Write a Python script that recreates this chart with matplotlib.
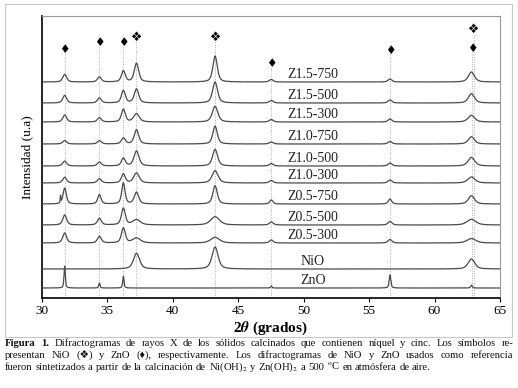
import numpy as np
import matplotlib
matplotlib.use("Agg")
import matplotlib.pyplot as plt
from matplotlib.patches import Rectangle

plt.rcParams['font.family'] = ['Liberation Serif', 'DejaVu Sans']
plt.rcParams['mathtext.fontset'] = 'stix'

# ---------------- data ----------------
samples = ['Z1.5-750', 'Z1.5-500', 'Z1.5-300', 'Z1.0-750', 'Z1.0-500', 'Z1.0-300',
           'Z0.5-750', 'Z0.5-500', 'Z0.5-300', 'NiO', 'ZnO']
offsets = [216, 195, 176, 154, 132, 115, 94, 73, 55, 29, 10]

peak_pos = [31.77, 34.42, 36.25, 37.25, 43.25, 47.54, 56.60, 62.82]
# peak heights (a.u.) per sample, at peak_pos
heights = {
    'Z1.5-750': [7.7, 5.0, 11.0, 18.7, 26.0, 2.5, 3.0, 10.0],
    'Z1.5-500': [7.7, 5.0, 12.5, 14.0, 21.0, 2.5, 3.0, 9.3],
    'Z1.5-300': [7.0, 4.3, 12.7, 8.3, 15.7, 2.5, 3.0, 6.7],
    'Z1.0-750': [3.5, 3.3, 6.0, 14.3, 18.0, 2.0, 2.5, 7.3],
    'Z1.0-500': [5.0, 4.0, 7.7, 15.0, 16.7, 2.5, 3.0, 8.7],
    'Z1.0-300': [5.7, 4.3, 9.0, 10.0, 12.3, 2.5, 3.0, 6.0],
    'Z0.5-750': [16.0, 9.3, 21.0, 11.7, 18.3, 4.0, 5.0, 8.3],
    'Z0.5-500': [10.0, 6.7, 16.7, 5.3, 8.3, 3.0, 3.5, 5.7],
    'Z0.5-300': [10.0, 6.7, 15.0, 5.0, 5.7, 3.0, 3.5, 4.5],
    'NiO':      [0.0, 0.0, 0.0, 15.7, 22.0, 0.0, 0.0, 10.0],
    'ZnO':      [22.0, 5.0, 12.0, 0.0, 0.0, 2.0, 13.0, 2.7],
}
# peak widths (FWHM, degrees)
widths = {
    'Z1.5-750': [0.35, 0.35, 0.35, 0.40, 0.40, 0.35, 0.35, 0.55],
    'Z1.5-500': [0.35, 0.35, 0.35, 0.40, 0.45, 0.35, 0.35, 0.55],
    'Z1.5-300': [0.35, 0.35, 0.35, 0.50, 0.50, 0.35, 0.35, 0.60],
    'Z1.0-750': [0.35, 0.35, 0.35, 0.40, 0.40, 0.35, 0.35, 0.55],
    'Z1.0-500': [0.35, 0.35, 0.35, 0.45, 0.45, 0.35, 0.35, 0.60],
    'Z1.0-300': [0.35, 0.35, 0.35, 0.50, 0.55, 0.35, 0.35, 0.65],
    'Z0.5-750': [0.30, 0.30, 0.30, 0.40, 0.40, 0.30, 0.30, 0.55],
    'Z0.5-500': [0.35, 0.35, 0.35, 0.70, 0.80, 0.35, 0.35, 0.80],
    'Z0.5-300': [0.35, 0.35, 0.35, 0.70, 0.80, 0.35, 0.35, 0.80],
    'NiO':      [0.50, 0.50, 0.50, 0.55, 0.55, 0.50, 0.50, 0.60],
    'ZnO':      [0.12, 0.12, 0.12, 0.12, 0.12, 0.12, 0.15, 0.15],
}
# extra sharp spike at 31.4 in Z0.5-750
spike_pos = 31.45
spike_h = 7.0

zno_marks_x = [31.77, 34.42, 36.25, 47.54, 56.60, 62.88]
zno_marks_y = [249, 256, 256, 235, 248, 250]
nio_marks_x = [37.25, 43.28, 63.02]
nio_marks_y = [261, 261, 269]

xticks = [30, 35, 40, 45, 50, 55, 60, 65]

# ---------------- figure ----------------
W, H = 518, 388
fig = plt.figure(figsize=(W / 100, H / 100), dpi=100)
fig.patch.set_facecolor('white')
fig.patches.append(Rectangle((5 / W, 1 - 337 / H), (512 - 5) / W, (337 - 4) / H,
                             transform=fig.transFigure, fill=False,
                             edgecolor='#c8c8c8', lw=0.8))

ax = fig.add_axes([41.5 / W, 1 - 298 / H, (500 - 41.5) / W, (298 - 16) / H])

x = np.linspace(30, 65, 4000)


def profile(pos, hts, wds):
    y = np.zeros_like(x)
    for c, h, w in zip(pos, hts, wds):
        if h <= 0:
            continue
        g = (x - c) / (w / 2)
        lor = 1 / (1 + g ** 2)
        gau = np.exp(-np.log(2) * g ** 2)
        y += h * (0.55 * lor + 0.45 * gau)
    return y


# dotted guide lines
for mx, my in zip(zno_marks_x + nio_marks_x, zno_marks_y + nio_marks_y):
    ax.plot([mx, mx], [0, my - 4], ls=(0, (1, 1.5)), color='#b0b0b0', lw=0.7, zorder=1)

for name, off in zip(samples, offsets):
    y = profile(peak_pos, heights[name], widths[name])
    if name == 'Z0.5-750':
        y = y + profile([spike_pos], [spike_h], [0.05])
    ax.plot(x, y + off, color='#4a4a4a', lw=0.9, zorder=3)
    ax.text(50.7, off + 7.5, name, ha='center', va='center', fontsize=10,
            color='#222222', zorder=4)

for mx, my in zip(zno_marks_x, zno_marks_y):
    ax.text(mx, my, '\u2666', ha='center', va='center', fontsize=8.5,
            family='DejaVu Sans', color='black', zorder=5)
for mx, my in zip(nio_marks_x, nio_marks_y):
    ax.text(mx, my, '\u2756', ha='center', va='center', fontsize=9,
            family='DejaVu Sans', color='black', zorder=5)

ax.set_xlim(30, 65)
ax.set_ylim(0, 282)
ax.set_xticks(xticks)
ax.set_xticklabels([str(t) for t in xticks], fontsize=9.5)
ax.set_yticks([])
ax.tick_params(axis='x', direction='out', length=3, width=0.8, pad=2)
for s in ['left', 'bottom']:
    ax.spines[s].set_color('black')
    ax.spines[s].set_linewidth(1.2)
for s in ['top', 'right']:
    ax.spines[s].set_color('#9a9a9a')
    ax.spines[s].set_linewidth(0.8)

ax.set_xlabel(r'2$\boldsymbol{\theta}$ (grados)', fontsize=11, fontweight='bold', labelpad=2)
ax.set_ylabel('Intensidad (u.a)', fontsize=9.5, labelpad=6)

# ---------------- caption (justified) ----------------
fig.canvas.draw()
renderer = fig.canvas.get_renderer()
cap_fs = 7.7
left_px, right_px = 5, 513
space_px = 0.25 * cap_fs * 100 / 72
lines = [
    ([('Figura', 'bold'), ('1.', 'bold'), ('Difractogramas', 'normal'), ('de', 'normal'),
      ('rayos', 'normal'), ('X', 'normal'), ('de', 'normal'), ('los', 'normal'),
      ('sólidos', 'normal'), ('calcinados', 'normal'), ('que', 'normal'),
      ('contienen', 'normal'), ('níquel', 'normal'), ('y', 'normal'), ('cinc.', 'normal'),
      ('Los', 'normal'), ('símbolos', 'normal'), ('re-', 'normal')], 346, True),
    ([(w, 'normal') for w in
      'presentan NiO (\u2756) y ZnO (\u2666), respectivamente. Los difractogramas de NiO y ZnO usados como referencia'.split(' ')],
     358, True),
    ([(w, 'normal') for w in
      ['fueron', 'sintetizados', 'a', 'partir', 'de', 'la', 'calcinación', 'de',
       r'Ni(OH)$_2$', 'y', r'Zn(OH)$_2$', 'a', '500', r'$^{\rm o}$C', 'en',
       'atmósfera', 'de', 'aire.']], 370, False),
]
for words, ypx, justify in lines:
    objs = []
    for w, wt in words:
        t = fig.text(0, 1 - ypx / H, w, fontsize=cap_fs, fontweight=wt,
                     ha='left', va='baseline', color='#111111',
                     family=['Liberation Serif', 'DejaVu Sans'])
        objs.append(t)
    wds = [o.get_window_extent(renderer).width for o in objs]
    total = sum(wds)
    if justify:
        gap = (right_px - left_px - total) / (len(objs) - 1)
    else:
        gap = space_px
    xp = left_px
    for o, wd in zip(objs, wds):
        o.set_x(xp / W)
        xp += wd + gap

fig.savefig('out.png', dpi=100, facecolor='white')
